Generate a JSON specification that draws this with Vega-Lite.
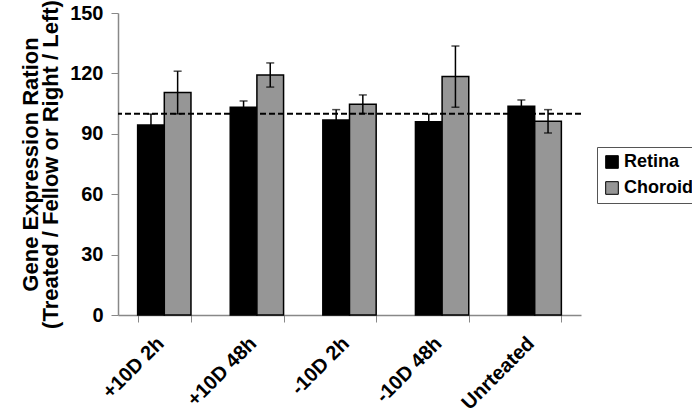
{
  "$schema": "https://vega.github.io/schema/vega-lite/v6.json",
  "width": 463,
  "height": 302,
  "autosize": {"type": "none"},
  "padding": {"left": 118, "top": 13, "right": 111, "bottom": 99},
  "background": "white",
  "config": {
    "font": "Liberation Sans",
    "view": {"stroke": null},
    "axis": {"grid": false}
  },
  "data": {
    "values": [
      {"cond": "+10D 2h", "tissue": "Retina", "value": 94.4, "lo": 89.0, "hi": 99.8},
      {"cond": "+10D 2h", "tissue": "Choroid", "value": 110.5, "lo": 99.9, "hi": 121.1},
      {"cond": "+10D 48h", "tissue": "Retina", "value": 103.2, "lo": 100.1, "hi": 106.3},
      {"cond": "+10D 48h", "tissue": "Choroid", "value": 119.2, "lo": 113.2, "hi": 125.2},
      {"cond": "-10D 2h", "tissue": "Retina", "value": 96.9, "lo": 91.8, "hi": 102.0},
      {"cond": "-10D 2h", "tissue": "Choroid", "value": 104.7, "lo": 100.1, "hi": 109.3},
      {"cond": "-10D 48h", "tissue": "Retina", "value": 96.0, "lo": 92.3, "hi": 99.7},
      {"cond": "-10D 48h", "tissue": "Choroid", "value": 118.4, "lo": 103.2, "hi": 133.6},
      {"cond": "Unrteated", "tissue": "Retina", "value": 103.7, "lo": 100.6, "hi": 106.8},
      {"cond": "Unrteated", "tissue": "Choroid", "value": 96.2, "lo": 90.4, "hi": 102.0}
    ]
  },
  "layer": [
    {
      "mark": {"type": "bar", "stroke": "black", "strokeWidth": 1.5},
      "encoding": {
        "x": {
          "field": "cond", "type": "nominal", "sort": null,
          "scale": {"paddingInner": 0.424, "paddingOuter": 0.212},
          "axis": {
            "title": null,
            "labelAngle": -45,
            "labelFontSize": 20,
            "labelFontWeight": "bold",
            "labelColor": "black",
            "labelOffset": -11,
            "tickBand": "extent",
            "tickSize": 7,
            "tickColor": "#888888",
            "domainColor": "#888888",
            "domainWidth": 1.5,
            "labelPadding": 11
          }
        },
        "xOffset": {"field": "tissue", "type": "nominal", "sort": ["Retina", "Choroid"], "scale": {"paddingInner": 0, "paddingOuter": 0}},
        "y": {
          "field": "value", "type": "quantitative",
          "scale": {"domain": [0, 150], "nice": false},
          "axis": {
            "title": ["Gene Expression Ration", "(Treated / Fellow or Right / Left)"],
            "titleFontSize": 22,
            "titleFontWeight": "bold",
            "titleColor": "black",
            "titleLineHeight": 20,
            "titlePadding": 7,
            "values": [0, 30, 60, 90, 120, 150],
            "labelFontSize": 20,
            "labelFontWeight": "bold",
            "labelColor": "black",
            "labelPadding": 8,
            "tickSize": 7,
            "tickColor": "#888888",
            "domainColor": "#888888",
            "domainWidth": 1.5
          }
        },
        "color": {
          "field": "tissue", "type": "nominal",
          "scale": {"domain": ["Retina", "Choroid"], "range": ["#000000", "#969696"]},
          "legend": {
            "title": null,
            "orient": "none",
            "legendX": 479,
            "legendY": 134,
            "symbolType": "square",
            "symbolSize": 160,
            "symbolStrokeColor": "black",
            "symbolStrokeWidth": 1,
            "labelFontSize": 18,
            "labelFontWeight": "bold",
            "labelColor": "black",
            "labelOffset": 3,
            "rowPadding": 8,
            "padding": 6,
            "strokeColor": "#555555",
            "fillColor": "white"
          }
        }
      }
    },
    {
      "mark": {"type": "rule", "color": "black", "strokeWidth": 1.5},
      "encoding": {
        "x": {"field": "cond", "type": "nominal", "sort": null},
        "xOffset": {"field": "tissue", "type": "nominal", "sort": ["Retina", "Choroid"]},
        "y": {"field": "lo", "type": "quantitative"},
        "y2": {"field": "hi"}
      }
    },
    {
      "mark": {"type": "tick", "color": "black", "thickness": 1.5, "size": 8, "orient": "horizontal"},
      "encoding": {
        "x": {"field": "cond", "type": "nominal", "sort": null},
        "xOffset": {"field": "tissue", "type": "nominal", "sort": ["Retina", "Choroid"]},
        "y": {"field": "hi", "type": "quantitative"}
      }
    },
    {
      "mark": {"type": "tick", "color": "black", "thickness": 1.5, "size": 8, "orient": "horizontal"},
      "encoding": {
        "x": {"field": "cond", "type": "nominal", "sort": null},
        "xOffset": {"field": "tissue", "type": "nominal", "sort": ["Retina", "Choroid"]},
        "y": {"field": "lo", "type": "quantitative"}
      }
    },
    {
      "data": {"values": [{"ref": 100}]},
      "mark": {"type": "rule", "color": "black", "strokeWidth": 2, "strokeDash": [6, 3]},
      "encoding": {
        "y": {"field": "ref", "type": "quantitative"}
      }
    }
  ]
}
